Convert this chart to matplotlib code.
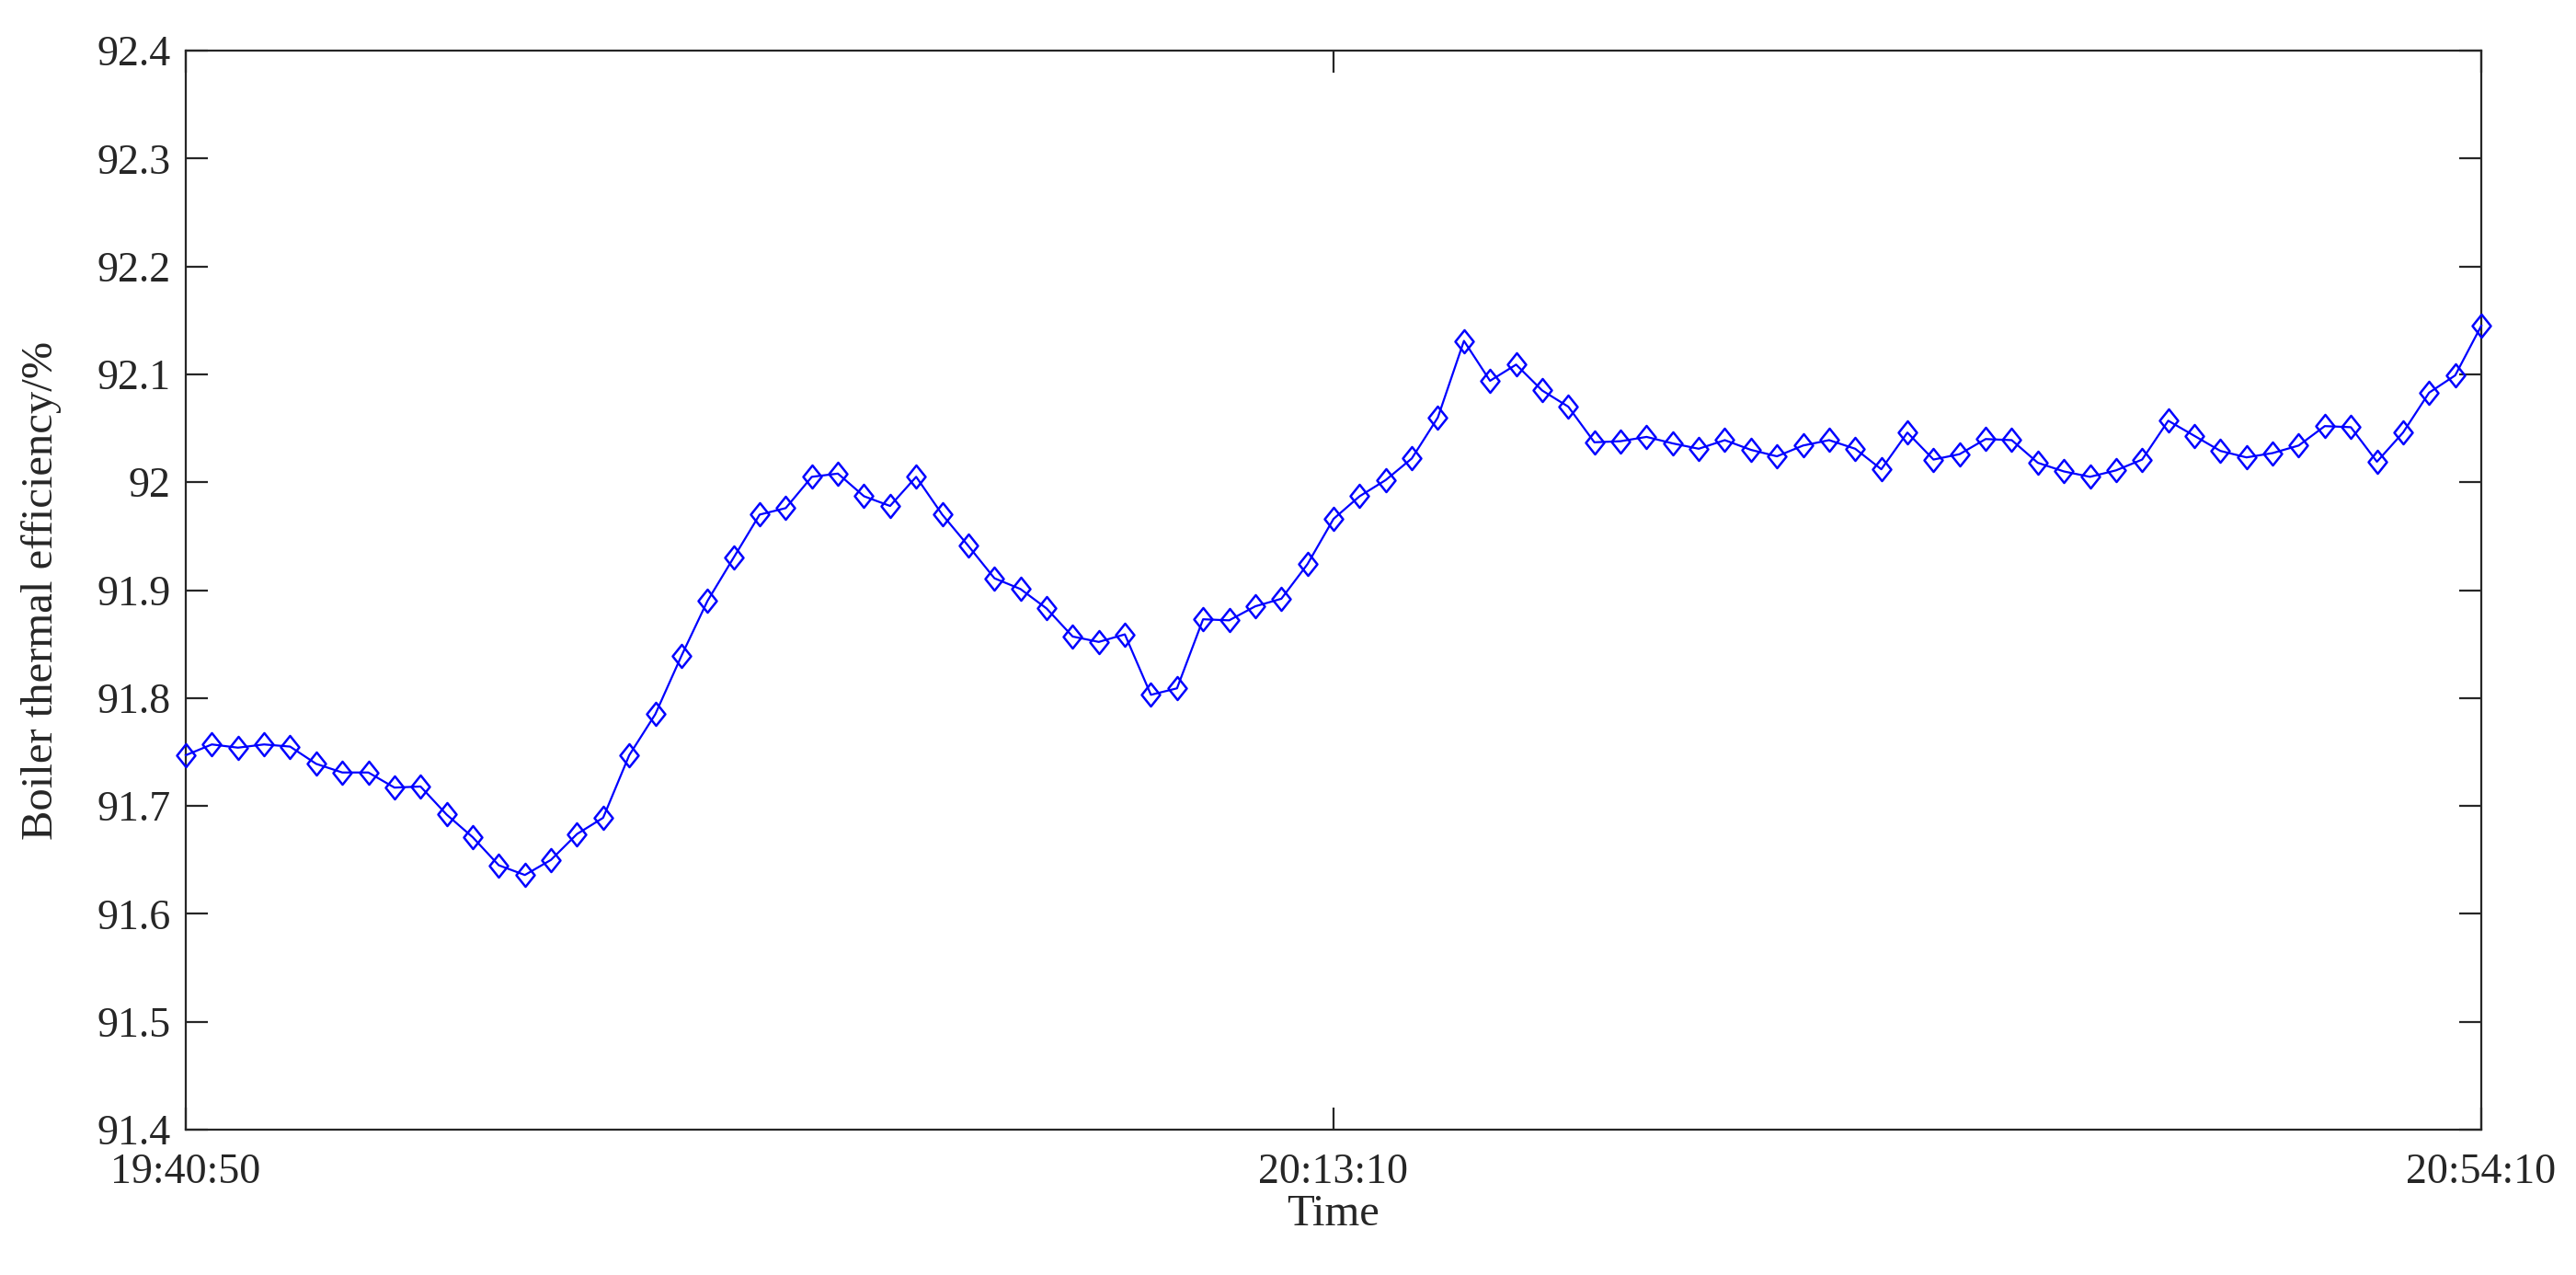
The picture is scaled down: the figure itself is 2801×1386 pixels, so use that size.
import matplotlib
matplotlib.use('Agg')
import matplotlib.pyplot as plt
from matplotlib.path import Path
import numpy as np

# data: boiler thermal efficiency, one sample per step
efficiency = [
    91.747, 91.757, 91.754, 91.757, 91.755, 91.739, 91.731, 91.731, 91.717, 91.718,
    91.692, 91.671, 91.645, 91.636, 91.650, 91.674, 91.689, 91.747, 91.785, 91.839,
    91.890, 91.930, 91.970, 91.976, 92.005, 92.008, 91.987, 91.978, 92.005, 91.970,
    91.941, 91.911, 91.901, 91.883, 91.857, 91.852, 91.859, 91.803, 91.809, 91.873,
    91.872, 91.885, 91.892, 91.924, 91.966, 91.987, 92.002, 92.022, 92.060, 92.131,
    92.094, 92.109, 92.085, 92.070, 92.037, 92.038, 92.042, 92.036, 92.031, 92.039,
    92.030, 92.024, 92.034, 92.039, 92.031, 92.012, 92.046, 92.021, 92.026, 92.040,
    92.039, 92.018, 92.010, 92.005, 92.011, 92.021, 92.057, 92.043, 92.029, 92.023,
    92.027, 92.034, 92.052, 92.051, 92.019, 92.046, 92.083, 92.099, 92.145,
]
x_tick_idx = [0, 44, 88]
x_tick_labels = ['19:40:50', '20:13:10', '20:54:10']
y_ticks = [91.4, 91.5, 91.6, 91.7, 91.8, 91.9, 92.0, 92.1, 92.2, 92.3, 92.4]
y_tick_labels = ['91.4', '91.5', '91.6', '91.7', '91.8', '91.9', '92', '92.1', '92.2', '92.3', '92.4']

plt.rcParams['font.family'] = ['Liberation Serif', 'DejaVu Serif']

fig = plt.figure(figsize=(28.01, 13.86), dpi=100, facecolor='white')
ax = fig.add_axes([202 / 2801, 158 / 1386, 2496 / 2801, 1173 / 1386])

# MATLAB-style diamond (a bit narrower than tall)
diamond = Path([(0, 1), (0.8, 0), (0, -1), (-0.8, 0), (0, 1)],
               [Path.MOVETO, Path.LINETO, Path.LINETO, Path.LINETO, Path.CLOSEPOLY])

x = np.arange(len(efficiency))
ax.plot(x, efficiency, color='#0000FF', linewidth=1.6,
        marker=diamond, markersize=18, markerfacecolor='none',
        markeredgecolor='#0000FF', markeredgewidth=1.8, clip_on=False, zorder=3)

ax.set_xlim(0, len(efficiency) - 1)
ax.set_ylim(91.4, 92.4)
ax.set_xticks(x_tick_idx)
ax.set_xticklabels(x_tick_labels)
ax.set_yticks(y_ticks)
ax.set_yticklabels(y_tick_labels)

for s in ax.spines.values():
    s.set_color('#262626')
    s.set_linewidth(1.6)

ax.tick_params(direction='in', length=17, width=1.6, color='#262626',
               labelsize=33, labelcolor='#262626',
               top=True, right=True)
ax.tick_params(axis='x', pad=18)
ax.tick_params(axis='y', pad=12)

ax.set_xlabel('Time', fontsize=35, color='#262626', labelpad=2)
ax.set_ylabel('Boiler thermal efficiency/%', fontsize=35, color='#262626')
ax.yaxis.set_label_coords(-0.054, 0.5)

fig.savefig('out.png', dpi=100, facecolor='white')
